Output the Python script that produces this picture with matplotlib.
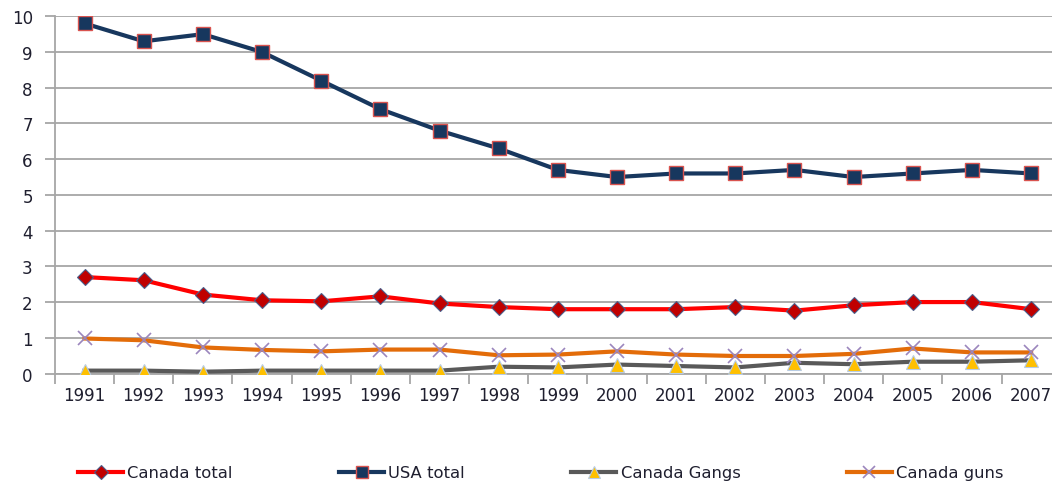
import matplotlib
matplotlib.use("Agg")
import matplotlib.pyplot as plt
import numpy as np

years = ["1991", "1992", "1993", "1994", "1995", "1996", "1997", "1998", "1999",
         "2000", "2001", "2002", "2003", "2004", "2005", "2006", "2007"]
canada_total = [2.70, 2.61, 2.21, 2.05, 2.02, 2.16, 1.96, 1.86, 1.80, 1.80, 1.80,
                1.86, 1.76, 1.91, 2.00, 2.00, 1.80]
usa_total = [9.8, 9.3, 9.5, 9.0, 8.2, 7.4, 6.8, 6.3, 5.7, 5.5, 5.6, 5.6, 5.7, 5.5,
             5.6, 5.7, 5.6]
canada_gangs = [0.08, 0.08, 0.05, 0.08, 0.08, 0.08, 0.08, 0.19, 0.17, 0.25, 0.21,
                0.17, 0.30, 0.26, 0.33, 0.33, 0.37]
canada_guns = [0.98, 0.93, 0.73, 0.66, 0.62, 0.67, 0.67, 0.51, 0.53, 0.62, 0.53,
               0.49, 0.49, 0.55, 0.70, 0.59, 0.59]
y_ticks = [0, 1, 2, 3, 4, 5, 6, 7, 8, 9, 10]

W, H = 1052, 485
fig = plt.figure(figsize=(W / 100, H / 100), dpi=100)
ax = fig.add_axes([55 / W, 1 - 374.5 / H, (1060.7 - 55) / W, (374.5 - 17.3) / H])

x = np.arange(len(years))
grid_c = "#a6a6a6"

ax.plot(x, canada_total, color="#ff0000", lw=3, marker="D", ms=8.5,
        mfc="#c00000", mec="#4a5d8a", mew=0.8, label="Canada total", zorder=5)
ax.plot(x, usa_total, color="#17375e", lw=3, marker="s", ms=10,
        mfc="#17375e", mec="#d9534f", mew=1.0, label="USA total", zorder=5)
ax.plot(x, canada_gangs, color="#595959", lw=3, marker="^", ms=10,
        mfc="#ffc000", mec="#b8cce4", mew=0.8, label="Canada Gangs", zorder=4)
ax.plot(x, canada_guns, color="#e36c09", lw=3, marker="x", ms=10,
        mfc="none", mec="#9b86bd", mew=1.2, label="Canada guns", zorder=4)

ax.set_xlim(-0.5, len(years) - 0.5)
ax.set_ylim(0, 10)
ax.set_yticks(y_ticks)
ax.set_yticklabels([str(v) for v in y_ticks])
ax.yaxis.grid(True, color=grid_c, lw=1.3)
ax.set_axisbelow(True)

ax.set_xticks(x)
ax.set_xticklabels(years)
ax.set_xticks(np.arange(-0.5, len(years), 1.0), minor=True)
ax.tick_params(axis="x", which="major", length=0, pad=9, labelsize=12,
               labelcolor="#1f1f2f")
ax.tick_params(axis="x", which="minor", length=7, width=1.3, color=grid_c,
               direction="out")
ax.tick_params(axis="y", length=7, width=1.3, color=grid_c, pad=9,
               labelsize=12, labelcolor="#1f1f2f")

for s in ["top", "right"]:
    ax.spines[s].set_visible(False)
for s in ["left", "bottom"]:
    ax.spines[s].set_color(grid_c)
    ax.spines[s].set_linewidth(1.3)

handles, labels = ax.get_legend_handles_labels()
fig.legend(handles, labels, loc="center left", ncol=4, frameon=False,
           bbox_to_anchor=(78 / W, 1 - 474 / H), borderpad=0, borderaxespad=0,
           fontsize=11.8, handlelength=2.75, handletextpad=0.25,
           columnspacing=6.5, markerscale=0.85, labelcolor="#1f1f2f")

fig.savefig("out.png", dpi=100, facecolor="white")
